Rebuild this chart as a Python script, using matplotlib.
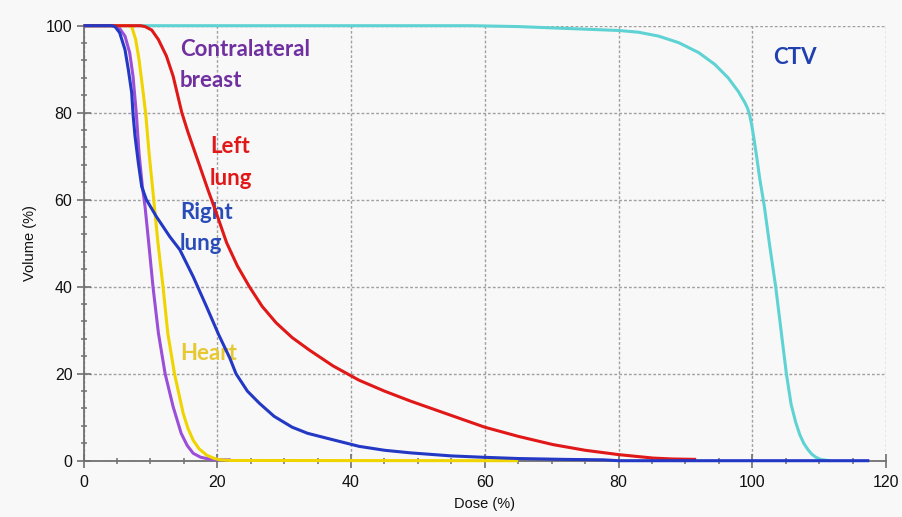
import matplotlib
matplotlib.use("Agg")
import matplotlib.pyplot as plt
from matplotlib.ticker import MultipleLocator

# ---- data ----
ctv_dose = [0, 58, 65, 70, 75, 80, 83, 86, 89, 92, 94.4, 96.4, 97.9, 98.9, 99.3, 99.6, 99.9,
            100.2, 100.6, 101.1, 101.8, 102.6, 103.5, 104.3, 105.1, 105.8, 106.5, 107.1, 107.7,
            108.3, 108.9, 109.5, 110.2, 111.0, 111.7]
ctv_vol = [100, 100, 99.8, 99.5, 99.2, 98.9, 98.5, 97.6, 96.1, 93.8, 91.1, 88, 84.9, 82.3, 81,
           79.5, 77.3, 74.5, 70.5, 65, 58.5, 49.5, 40, 30, 20, 13, 8.8, 6, 4, 2.6, 1.5, 0.8, 0.3,
           0.1, 0]

left_lung_dose = [0, 8.5, 9.2, 10.2, 11.2, 12.4, 13.4, 14.7, 15.6, 16.5, 17.5, 18.6, 19.8, 21.4,
                  23.0, 24.8, 26.7, 28.8, 31.2, 33.8, 37.3, 41.2, 45, 48.9, 55, 60, 65, 70.2, 75,
                  80, 85.2, 88, 91.6]
left_lung_vol = [100, 100, 99.8, 99, 96.8, 93, 88.4, 80, 75.6, 71.6, 67.2, 62.3, 57.2, 50.1,
                 44.8, 40, 35.5, 31.7, 28.3, 25.4, 21.8, 18.5, 16.0, 13.7, 10.4, 7.7, 5.6, 3.7, 2.4,
                 1.4, 0.6, 0.4, 0.3]

right_lung_dose = [0, 4.2, 4.7, 5.4, 6.2, 6.7, 7.2, 7.4, 7.7, 8.2, 8.7, 9.4, 10.9, 12.9, 14.4,
                   16.4, 18.4, 20.2, 21.9, 22.8, 24.5, 26.3, 28.5, 31.2, 33.5, 36.3, 41.2, 45, 48.9,
                   55, 59.6, 65, 72, 77.7, 80, 117.5]
right_lung_vol = [100, 100, 99.8, 98.4, 94.5, 89.9, 84.6, 79.7, 74.6, 68.4, 63, 60, 56.1, 51.5,
                  48.5, 42.3, 35.4, 29, 23.5, 20, 16, 13.2, 10.2, 7.7, 6.3, 5.2, 3.3, 2.4, 1.8,
                  1.1, 0.8, 0.5, 0.3, 0.2, 0, 0]

breast_dose = [0, 4.8, 5.2, 6.2, 6.9, 7.4, 7.9, 8.3, 8.8, 9.2, 9.7, 10.4, 11.2, 12.2, 13.4, 14.6,
               15.5, 16.4, 17.5, 19.0, 20.5, 22.0]
breast_vol = [100, 100, 99.8, 97.6, 93.8, 88.4, 79.7, 70.7, 63, 58.4, 50.8, 39.8, 29.3, 20, 12.4,
              6.3, 3.5, 1.7, 0.8, 0.3, 0.2, 0.2]

heart_dose = [0, 6.7, 7.2, 7.8, 8.3, 8.8, 9.3, 9.8, 10.5, 11.1, 11.9, 12.6, 13.6, 14.9, 15.6,
              16.4, 17.3, 18.4, 19.4, 20.4, 22, 65]
heart_vol = [100, 100, 99.8, 96.8, 92.2, 86.1, 79.7, 70.7, 60, 50.5, 39.8, 29.3, 20, 10.9, 7.5,
             4.7, 2.7, 1.3, 0.6, 0.2, 0.05, 0]

x_ticks = [0, 20, 40, 60, 80, 100, 120]
y_ticks = [0, 20, 40, 60, 80, 100]

# ---- figure ----
bg = "#f8f8f8"
fig = plt.figure(figsize=(9.03, 5.17), dpi=100, facecolor=bg)
ax = fig.add_axes([0.0925, 0.1089, 0.8887, 0.8414], facecolor=bg)

lw = 2.2
kw = dict(lw=lw, solid_joinstyle="round", solid_capstyle="butt", clip_on=False)
ax.plot(ctv_dose, ctv_vol, color="#5fd2d4", zorder=3, **kw)
ax.plot(breast_dose, breast_vol, color="#9b4fd8", zorder=4, **kw)
ax.plot(heart_dose, heart_vol, color="#f0d400", zorder=5, **kw)
ax.plot(left_lung_dose, left_lung_vol, color="#e01818", zorder=6, **kw)
ax.plot(right_lung_dose, right_lung_vol, color="#2338c4", zorder=7, **kw)

ax.set_xlim(0, 120)
ax.set_ylim(0, 100)
ax.set_xticks(x_ticks)
ax.set_yticks(y_ticks)
ax.xaxis.set_minor_locator(MultipleLocator(5))
ax.yaxis.set_minor_locator(MultipleLocator(4))

ax.grid(True, which="major", color="#a0a0a0", linestyle=(0, (2, 1.5)), linewidth=1.0, zorder=1)
ax.set_axisbelow(True)

for s in ["top", "right"]:
    ax.spines[s].set_visible(False)
for s in ["left", "bottom"]:
    ax.spines[s].set_color("#707070")
    ax.spines[s].set_linewidth(1.3)

ax.tick_params(which="major", direction="inout", length=10, width=1.2, color="#707070",
               labelsize=11.5, labelcolor="#111111")
ax.tick_params(axis="x", which="major", pad=5)
ax.tick_params(axis="y", which="major", pad=3)
ax.tick_params(which="minor", direction="inout", length=5, width=1.1, color="#707070")

for lab in ax.get_xticklabels() + ax.get_yticklabels():
    lab.set_family("Liberation Sans")

ax.set_xlabel("Dose (%)", fontsize=10.5, family="Liberation Sans", color="#111111", labelpad=5)
ax.set_ylabel("Volume (%)", fontsize=10.5, family="Liberation Sans", color="#111111", labelpad=6)

tf = dict(family="Lato", fontweight="bold", fontsize=16, ha="left", va="center", linespacing=1.62)
ax.text(14.4, 91.0, "Contralateral\nbreast", color="#7030a0", **tf)
ax.text(18.9, 68.6, "Left\nlung", color="#e01818", **tf)
ax.text(14.4, 53.5, "Right\nlung", color="#2a4cb8", **tf)
ax.text(14.4, 24.7, "Heart", color="#e6c832", **tf)
ax.text(103.1, 92.7, "CTV", color="#2040b0", **tf)

fig.savefig("out.png", dpi=100, facecolor=bg)
